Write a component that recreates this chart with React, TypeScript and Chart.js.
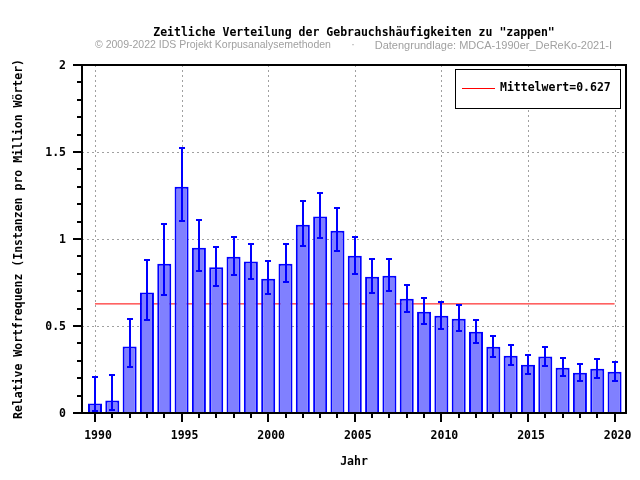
import React, { useEffect, useRef } from "react";
import { Chart, registerables } from "chart.js";

Chart.register(...registerables);

const years = [1990, 1991, 1992, 1993, 1994, 1995, 1996, 1997, 1998, 1999, 2000, 2001, 2002, 2003, 2004, 2005, 2006, 2007, 2008, 2009, 2010, 2011, 2012, 2013, 2014, 2015, 2016, 2017, 2018, 2019, 2020];
const values = [0.055, 0.072, 0.382, 0.692, 0.858, 1.30, 0.95, 0.837, 0.898, 0.87, 0.772, 0.858, 1.082, 1.129, 1.048, 0.904, 0.783, 0.789, 0.657, 0.582, 0.559, 0.542, 0.467, 0.381, 0.329, 0.277, 0.324, 0.26, 0.232, 0.255, 0.237];
const upper = [0.209, 0.22, 0.543, 0.881, 1.088, 1.525, 1.111, 0.956, 1.013, 0.973, 0.875, 0.973, 1.22, 1.267, 1.18, 1.013, 0.885, 0.885, 0.737, 0.662, 0.639, 0.622, 0.536, 0.442, 0.391, 0.335, 0.381, 0.318, 0.283, 0.312, 0.295];
const lower = [0.013, 0.02, 0.267, 0.537, 0.679, 1.104, 0.818, 0.731, 0.795, 0.772, 0.685, 0.755, 0.962, 1.008, 0.933, 0.80, 0.691, 0.703, 0.58, 0.511, 0.483, 0.471, 0.402, 0.322, 0.276, 0.224, 0.27, 0.214, 0.186, 0.203, 0.186];
const meanValue = 0.627;
const xMajorTicks = [1990, 1995, 2000, 2005, 2010, 2015, 2020];
const yMajorTicks = [0, 0.5, 1, 1.5, 2];
const yMinorTicks = [0.1, 0.2, 0.3, 0.4, 0.6, 0.7, 0.8, 0.9, 1.1, 1.2, 1.3, 1.4, 1.6, 1.7, 1.8, 1.9];

const titleText = 'Zeitliche Verteilung der Gebrauchshäufigkeiten zu "zappen"';
const subtitleLeft = "© 2009-2022 IDS Projekt Korpusanalysemethoden";
const subtitleDot = "·";
const subtitleRight = "Datengrundlage: MDCA-1990er_DeReKo-2021-I";
const xTitle = "Jahr";
const yTitle = "Relative Wortfrequenz (Instanzen pro Million Wörter)";
const legendLabel = "Mittelwert=0.627";

const MONO = "'DejaVu Sans Mono', monospace";
const BLUE = "#0000ff";

const customPlugin = {
  id: "customDecor",
  beforeDraw(chart: any) {
    const { ctx, width, height } = chart;
    ctx.save();
    ctx.fillStyle = "#ffffff";
    ctx.fillRect(0, 0, width, height);
    ctx.restore();
  },
  beforeDatasetsDraw(chart: any) {
    const { ctx, chartArea: a, scales } = chart;
    const x = scales.x;
    const y = scales.y;
    ctx.save();
    ctx.strokeStyle = "#a0a0a0";
    ctx.lineWidth = 1;
    ctx.setLineDash([2, 3]);
    xMajorTicks.forEach((v) => {
      const px = Math.round(x.getPixelForValue(v)) + 0.5;
      ctx.beginPath();
      ctx.moveTo(px, a.top);
      ctx.lineTo(px, a.bottom);
      ctx.stroke();
    });
    yMajorTicks.slice(1, -1).forEach((v) => {
      const py = Math.round(y.getPixelForValue(v)) + 0.5;
      ctx.beginPath();
      ctx.moveTo(a.left, py);
      ctx.lineTo(a.right, py);
      ctx.stroke();
    });
    ctx.restore();
  },
  afterDatasetsDraw(chart: any) {
    const { ctx, chartArea: a, scales } = chart;
    const x = scales.x;
    const y = scales.y;
    ctx.save();
    // error bars
    ctx.strokeStyle = BLUE;
    ctx.lineWidth = 2;
    years.forEach((yr, i) => {
      const px = Math.round(x.getPixelForValue(yr));
      const pu = Math.round(y.getPixelForValue(upper[i]));
      const pl = Math.round(y.getPixelForValue(lower[i]));
      ctx.beginPath();
      ctx.moveTo(px, pu);
      ctx.lineTo(px, pl);
      ctx.moveTo(px - 3, pu);
      ctx.lineTo(px + 3, pu);
      ctx.moveTo(px - 3, pl);
      ctx.lineTo(px + 3, pl);
      ctx.stroke();
    });
    // frame
    ctx.strokeStyle = "#000000";
    ctx.lineWidth = 2;
    ctx.strokeRect(a.left, a.top, a.right - a.left, a.bottom - a.top);
    // y ticks
    yMajorTicks.forEach((v) => {
      const py = Math.round(y.getPixelForValue(v));
      ctx.beginPath();
      ctx.moveTo(a.left - 9, py);
      ctx.lineTo(a.left, py);
      ctx.stroke();
    });
    yMinorTicks.forEach((v) => {
      const py = Math.round(y.getPixelForValue(v));
      ctx.beginPath();
      ctx.moveTo(a.left - 5, py);
      ctx.lineTo(a.left, py);
      ctx.stroke();
    });
    // x ticks
    years.forEach((yr) => {
      const px = Math.round(x.getPixelForValue(yr));
      const len = yr % 5 === 0 ? 9 : 5;
      ctx.beginPath();
      ctx.moveTo(px, a.bottom);
      ctx.lineTo(px, a.bottom + len);
      ctx.stroke();
    });
    ctx.restore();
  },
  afterDraw(chart: any) {
    const { ctx, chartArea: a } = chart;
    ctx.save();
    // title
    ctx.fillStyle = "#000000";
    ctx.font = "bold 11.5px " + MONO;
    ctx.textAlign = "center";
    ctx.textBaseline = "middle";
    ctx.fillText(titleText, 354, 33.5);
    // subtitle
    ctx.fillStyle = "#a0a0a0";
    ctx.font = "10.5px 'Liberation Sans', Arial, sans-serif";
    ctx.textAlign = "left";
    ctx.fillText(subtitleLeft, 95, 45.5);
    ctx.textAlign = "center";
    ctx.fillText(subtitleDot, 353, 45.5);
    ctx.font = "11px 'Liberation Sans', Arial, sans-serif";
    ctx.textAlign = "right";
    ctx.fillText(subtitleRight, 612, 45.5);
    // axis titles
    ctx.fillStyle = "#000000";
    ctx.font = "bold 11.5px " + MONO;
    ctx.textAlign = "center";
    ctx.fillText(xTitle, (a.left + a.right) / 2, 462);
    ctx.save();
    ctx.translate(19.5, (a.top + a.bottom) / 2);
    ctx.rotate(-Math.PI / 2);
    ctx.fillText(yTitle, 0, 0);
    ctx.restore();
    // legend
    ctx.fillStyle = "#ffffff";
    ctx.fillRect(455.5, 69.5, 165, 39);
    ctx.strokeStyle = "#000000";
    ctx.lineWidth = 1;
    ctx.strokeRect(455.5, 69.5, 165, 39);
    ctx.strokeStyle = "#ff0000";
    ctx.beginPath();
    ctx.moveTo(462, 88.5);
    ctx.lineTo(495, 88.5);
    ctx.stroke();
    ctx.fillStyle = "#000000";
    ctx.textAlign = "left";
    ctx.fillText(legendLabel, 500, 88.5);
    ctx.restore();
  },
};

export default function App() {
  const canvasRef = useRef<HTMLCanvasElement | null>(null);

  useEffect(() => {
    if (!canvasRef.current) return;
    const chart = new Chart(canvasRef.current, {
      type: "bar",
      data: {
        datasets: [
          {
            type: "bar",
            label: "Frequenz",
            data: years.map((yr, i) => ({ x: yr, y: values[i] })),
            backgroundColor: "#8080ff",
            borderColor: BLUE,
            borderWidth: 2,
            barPercentage: 0.81,
            categoryPercentage: 1,
            order: 0,
          },
          {
            type: "line",
            label: legendLabel,
            data: [
              { x: years[0], y: meanValue },
              { x: years[years.length - 1], y: meanValue },
            ],
            borderColor: "#ff0000",
            borderWidth: 1,
            pointRadius: 0,
            fill: false,
            order: 1,
          },
        ],
      } as any,
      options: {
        responsive: false,
        animation: false,
        events: [],
        layout: { autoPadding: false, padding: { left: 0, top: 65, right: 14, bottom: 0 } },
        plugins: {
          legend: { display: false },
          title: { display: false },
          tooltip: { enabled: false },
        },
        scales: {
          x: {
            type: "linear",
            min: 1989.25,
            max: 2020.66,
            offset: false,
            grid: { display: false, drawTicks: false },
            border: { display: false },
            afterBuildTicks: (scale: any) => {
              scale.ticks = xMajorTicks.map((v) => ({ value: v }));
            },
            afterFit: (scale: any) => {
              scale.height = 67;
              scale.paddingLeft = 0;
              scale.paddingRight = 0;
            },
            ticks: {
              autoSkip: false,
              maxRotation: 0,
              padding: 16,
              labelOffset: 3,
              color: "#000000",
              font: { family: MONO, size: 11.5, weight: "bold" },
              callback: (v: any) => String(v),
            },
          },
          y: {
            type: "linear",
            min: 0,
            max: 2,
            grid: { display: false, drawTicks: false },
            border: { display: false },
            afterBuildTicks: (scale: any) => {
              scale.ticks = yMajorTicks.map((v) => ({ value: v }));
            },
            afterFit: (scale: any) => {
              scale.width = 82;
              scale.paddingTop = 0;
              scale.paddingBottom = 0;
            },
            ticks: {
              padding: 16,
              labelOffset: 1,
              color: "#000000",
              font: { family: MONO, size: 11.5, weight: "bold" },
              callback: (v: any) => String(v),
            },
          },
        },
      } as any,
      plugins: [customPlugin],
    });
    return () => chart.destroy();
  }, []);

  return (
    <div style={{ position: "fixed", left: 0, top: 0, width: 640, height: 480, background: "#fff" }}>
      <canvas ref={canvasRef} width={640} height={480} />
    </div>
  );
}
